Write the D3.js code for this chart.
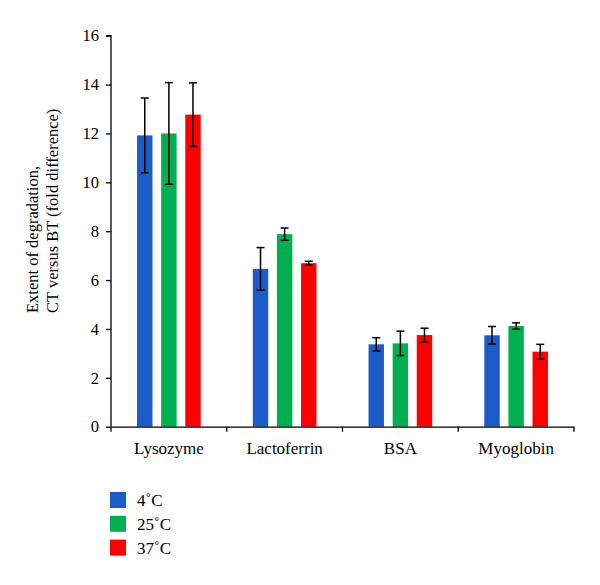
<!DOCTYPE html>
<html><head><meta charset="utf-8">
<script src="https://cdn.jsdelivr.net/npm/d3@7"></script>
<style>
body{margin:0;background:#fff;}
svg text{font-family:"Liberation Serif","DejaVu Serif",serif;}
</style></head>
<body><svg id="c" width="600" height="585"></svg>
<script>
const categories = ["Lysozyme","Lactoferrin","BSA","Myoglobin"];
const seriesNames = ["4˚C","25˚C","37˚C"];
const values4 = [11.92, 6.46, 3.37, 3.74];
const values25 = [12.0, 7.88, 3.41, 4.12];
const values37 = [12.77, 6.69, 3.75, 3.07];
const err4 = [1.53, 0.87, 0.27, 0.36];
const err25 = [2.08, 0.25, 0.5, 0.13];
const err37 = [1.3, 0.08, 0.28, 0.3];
const yTicks = [0,2,4,6,8,10,12,14,16];
const colors = ["#1b5cc8","#00b050","#ff0000"];

const series = [values4, values25, values37];
const errs = [err4, err25, err37];
const FONT = '"Liberation Serif","DejaVu Serif",serif';

const svg = d3.select("#c");
const x = d3.scaleBand().domain(categories).range([111, 574]).paddingInner(0).paddingOuter(0);
const xs = d3.scaleBand().domain(d3.range(3)).range([0, x.bandwidth()]).paddingInner(0.36).paddingOuter(1.08);
const y = d3.scaleLinear().domain([0,16]).range([426.7, 35.7]);

// bars
categories.forEach((c, ci) => {
  series.forEach((s, si) => {
    svg.append("rect")
      .attr("x", x(c) + xs(si))
      .attr("y", y(s[ci]))
      .attr("width", xs.bandwidth())
      .attr("height", y(0) - y(s[ci]))
      .attr("fill", colors[si]);
  });
});
// error bars
categories.forEach((c, ci) => {
  series.forEach((s, si) => {
    const cx = x(c) + xs(si) + xs.bandwidth()/2;
    const hi = y(s[ci] + errs[si][ci]), lo = y(s[ci] - errs[si][ci]);
    const g = svg.append("g").attr("stroke","#000").attr("stroke-width",1.5);
    g.append("line").attr("x1",cx).attr("x2",cx).attr("y1",hi).attr("y2",lo);
    g.append("line").attr("x1",cx-4).attr("x2",cx+4).attr("y1",hi).attr("y2",hi);
    g.append("line").attr("x1",cx-4).attr("x2",cx+4).attr("y1",lo).attr("y2",lo);
  });
});

// y axis
const ya = svg.append("g").attr("transform","translate(111,0)")
  .call(d3.axisLeft(y).tickValues(yTicks).tickSize(5).tickPadding(7).tickFormat(d3.format("d")));
ya.attr("font-family", FONT);
ya.select(".domain").attr("stroke","#000").attr("stroke-width",1.3).attr("d", `M-5,${y(16)}H0V${y(0)}`);
ya.selectAll(".tick line").attr("stroke","#000").attr("stroke-width",1.3);
ya.selectAll(".tick text").attr("font-size",16.5).attr("fill","#000");

// x axis
const xa = svg.append("g").attr("transform",`translate(0,${y(0)})`)
  .call(d3.axisBottom(x).tickSize(0).tickPadding(15));
xa.attr("font-family", FONT);
xa.select(".domain").attr("stroke","#000").attr("stroke-width",1.3);
xa.selectAll(".tick text").attr("font-size",17).attr("fill","#000");
const boundaries = categories.map(c => x(c)).concat([x(categories[categories.length-1]) + x.bandwidth()]);
svg.append("g").selectAll("line").data(boundaries).join("line")
  .attr("x1",d=>d).attr("x2",d=>d).attr("y1",y(0)).attr("y2",y(0)+5)
  .attr("stroke","#000").attr("stroke-width",1.3);

// y title
const tt = svg.append("text").attr("transform","translate(38,313) rotate(-90)")
  .attr("font-size",16.5).attr("fill","#000");
tt.append("tspan").attr("x",0).attr("y",0).text("Extent of degradation,");
tt.append("tspan").attr("x",0).attr("y",20).text("CT versus BT (fold difference)");

// legend
const lg = svg.append("g");
seriesNames.forEach((n, i) => {
  const yy = 492 + i*23.8;
  lg.append("rect").attr("x",110).attr("y",yy).attr("width",16).attr("height",16).attr("fill",colors[i]);
  lg.append("text").attr("x",137).attr("y",yy+14).attr("font-size",17).attr("fill","#000").text(n);
});
</script></body></html>
